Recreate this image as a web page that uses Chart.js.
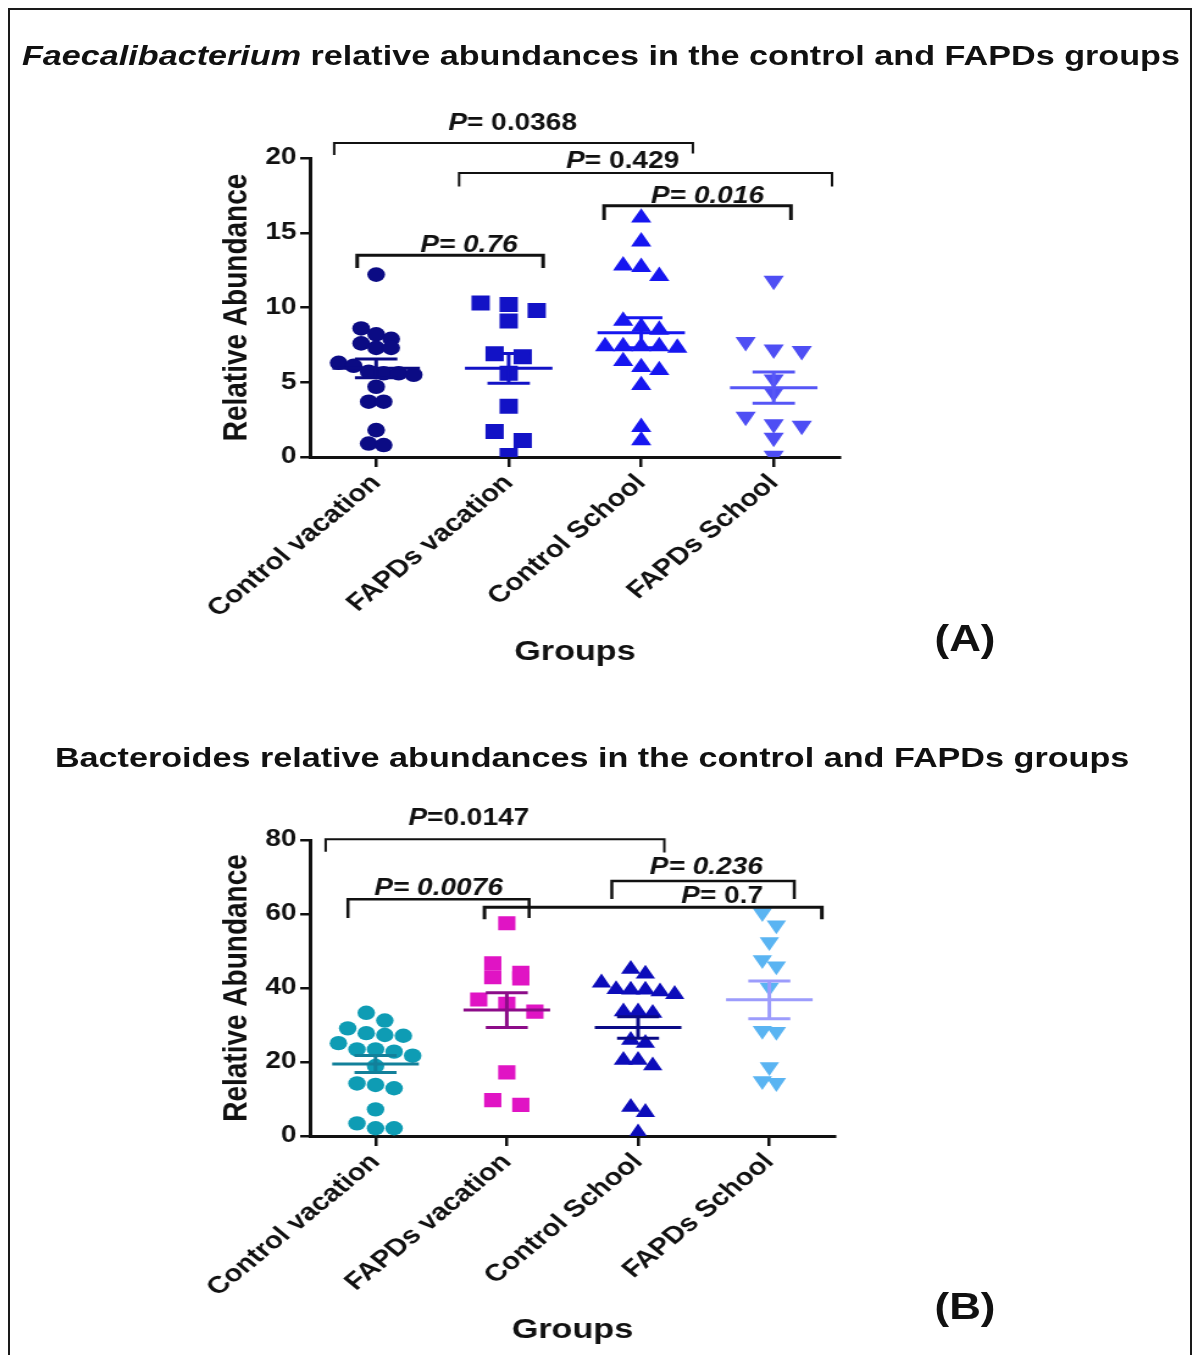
<!DOCTYPE html>
<html><head><meta charset="utf-8">
<script src="https://cdn.jsdelivr.net/npm/chart.js@4.4.1/dist/chart.umd.min.js"></script>
<style>
html,body{margin:0;padding:0;background:#fff;}
body{width:1196px;height:1355px;position:relative;overflow:hidden;font-family:"Liberation Sans",Arial,sans-serif;}
#frame{position:absolute;left:8px;top:8px;width:1184px;height:1400px;border:2px solid #1a1a1a;box-sizing:border-box;}
#stage{position:absolute;left:0;top:0;width:980px;height:1355px;transform:scaleX(1.22);transform-origin:0 0;}
.title{position:absolute;font-weight:bold;font-size:28px;color:#111;white-space:nowrap;line-height:1;}
.panel{position:absolute;font-weight:bold;font-size:36px;color:#111;line-height:1;}
canvas{position:absolute;left:0;}
</style></head>
<body>
<div id="frame"></div>
<div id="stage">
 <div class="title" style="left:18px;top:42px;"><i>Faecalibacterium</i> relative abundances in the control and FAPDs groups</div>
 <canvas id="cA" width="980" height="620" style="top:90px;width:980px;height:620px"></canvas>
 <div class="panel" style="left:766px;top:621px;">(A)</div>
 <div class="title" style="left:45px;top:744px;">Bacteroides relative abundances in the control and FAPDs groups</div>
 <canvas id="cB" width="980" height="575" style="top:780px;width:980px;height:575px"></canvas>
 <div class="panel" style="left:766px;top:1289px;">(B)</div>
</div>
<script>
// ---------- data ----------
const categories = ['Control vacation', 'FAPDs vacation', 'Control School', 'FAPDs School'];
const yTicksA = [0, 5, 10, 15, 20];
const yTicksB = [0, 20, 40, 60, 80];

const faecaliControlVacation = [12.2, 8.6, 8.2, 7.9, 7.6, 7.3, 7.3, 6.3, 6.1, 5.7, 5.6, 5.6, 5.5, 4.7, 3.7, 3.7, 1.8, 0.9, 0.8];
const faecaliFapdsVacation   = [10.3, 10.2, 9.8, 9.1, 6.9, 6.7, 5.6, 3.4, 1.7, 1.1, 0.1];
const faecaliControlSchool   = [16.0, 14.4, 12.8, 12.7, 12.1, 9.1, 8.7, 8.5, 7.4, 7.4, 7.4, 7.4, 7.3, 6.4, 6.0, 5.8, 4.8, 2.0, 1.1];
const faecaliFapdsSchool     = [11.8, 7.7, 7.2, 7.1, 5.2, 4.3, 2.7, 2.2, 2.1, 1.3, 0.1];
const faecaliMeans = [5.93, 5.93, 8.31, 4.64];
const faecaliSem   = [0.63, 1.0, 1.0, 1.04];

const bactControlVacation = [33.3, 31.2, 29.1, 27.8, 27.3, 27.1, 25.1, 23.4, 23.4, 22.8, 21.7, 18.9, 14.2, 13.8, 12.9, 7.2, 3.4, 2.1, 2.1];
const bactFapdsVacation   = [57.5, 46.7, 44.1, 42.9, 42.6, 36.9, 35.7, 33.6, 17.2, 9.7, 8.4];
const bactControlSchool   = [45.1, 43.8, 41.4, 39.6, 39.5, 39.5, 39.0, 38.3, 33.6, 33.6, 33.2, 25.9, 25.1, 20.5, 20.5, 19.0, 7.8, 6.4, 0.9];
const bactFapdsSchool     = [60.3, 57.0, 52.5, 47.6, 45.9, 40.2, 28.5, 28.2, 18.7, 14.9, 14.4];
const bactMeans = [19.46, 34.05, 29.3, 36.8];
const bactSem   = [2.3, 4.7, 2.9, 5.1];

const pValuesA = ['0.0368', '0.429', '0.016', '0.76'];
const pValuesB = ['0.0147', '0.0076', '0.236', '0.7'];

// ---------- annotation placement (category units / value units) ----------
const bracketsA = [
  {from:-0.317, to:2.39, y:21.0, legL:20.2, legR:20.3, tx:1.03, ty:21.87, p:pValuesA[0], sep:'= ', italic:false, lw:2},
  {from:0.626, to:3.44, y:19.0, legL:18.1, legR:18.1, tx:1.86, ty:19.33, p:pValuesA[1], sep:'= ', italic:false, lw:2},
  {from:1.72, to:3.13, y:16.8, legL:15.85, legR:15.85, tx:2.5, ty:16.99, p:pValuesA[2], sep:'= ', italic:true, lw:3},
  {from:-0.143, to:1.26, y:13.5, legL:12.64, legR:12.64, tx:0.70, ty:13.71, p:pValuesA[3], sep:'= ', italic:true, lw:3}
];
const bracketsB = [
  {from:-0.38, to:2.20, y:80.2, legL:76.8, legR:76.6, tx:0.71, ty:84.05, p:pValuesB[0], sep:'=', italic:false, lw:2},
  {from:-0.21, to:1.17, y:64.0, legL:58.9, legR:58.9, tx:0.48, ty:65.1, p:pValuesB[1], sep:'= ', italic:true, lw:2.5},
  {from:1.80, to:3.19, y:68.9, legL:64.05, legR:64.05, tx:2.52, ty:70.8, p:pValuesB[2], sep:'= ', italic:true, lw:2.5},
  {from:0.83, to:3.40, y:61.8, legL:58.6, legR:58.6, tx:2.64, ty:63.0, p:pValuesB[3], sep:'= ', italic:false, lw:3}
];

// ---------- styles ----------
const FAMILY = "'Liberation Sans', Arial, sans-serif";
Chart.defaults.font.family = FAMILY;
const stylesA = [
  {shape:'circle', rot:0, r:7.3, color:'#0b0b84', line:'#0b0b84', spread:12.3},
  {shape:'rect', rot:0, r:10.6, color:'#1212c6', line:'#1212c6', spread:23},
  {shape:'triangle', rot:0, r:9.6, color:'#1616f0', line:'#1616f0', spread:14.8},
  {shape:'triangle', rot:180, r:9.6, color:'#4e4ef4', line:'#5656f6', spread:23}
];
const stylesB = [
  {shape:'circle', rot:0, r:7.2, color:'#0e9cb4', line:'#12809a', spread:15.2},
  {shape:'rect', rot:0, r:10, color:'#e014c4', line:'#8c0c88', spread:23},
  {shape:'triangle', rot:0, r:9.2, color:'#0c0cba', line:'#0a0a86', spread:12},
  {shape:'triangle', rot:180, r:9.2, color:'#5ab4f2', line:'#9c9cfc', spread:11.5}
];

function meanSemPlugin(means, sems, styles) {
  return {
    id: 'meanSem',
    afterDatasetsDraw(chart) {
      const {ctx} = chart; const x = chart.scales.x, y = chart.scales.y;
      ctx.save();
      means.forEach((m, i) => {
        ctx.strokeStyle = styles[i].line; ctx.lineWidth = 3; ctx.lineCap = 'butt';
        const ym = y.getPixelForValue(m), yu = y.getPixelForValue(m + sems[i]), yl = y.getPixelForValue(m - sems[i]);
        ctx.beginPath();
        ctx.moveTo(x.getPixelForValue(i - 0.33), ym); ctx.lineTo(x.getPixelForValue(i + 0.33), ym);
        ctx.moveTo(x.getPixelForValue(i - 0.16), yu); ctx.lineTo(x.getPixelForValue(i + 0.16), yu);
        ctx.moveTo(x.getPixelForValue(i - 0.16), yl); ctx.lineTo(x.getPixelForValue(i + 0.16), yl);
        ctx.moveTo(x.getPixelForValue(i), yu); ctx.lineTo(x.getPixelForValue(i), yl);
        ctx.stroke();
      });
      ctx.restore();
    }
  };
}

function bracketPlugin(items) {
  return {
    id: 'brackets',
    afterDraw(chart) {
      const {ctx} = chart; const x = chart.scales.x, y = chart.scales.y;
      ctx.save();
      items.forEach(b => {
        const x1 = x.getPixelForValue(b.from), x2 = x.getPixelForValue(b.to), yy = y.getPixelForValue(b.y);
        ctx.strokeStyle = '#111'; ctx.lineWidth = b.lw; ctx.lineJoin = 'miter';
        ctx.beginPath();
        ctx.moveTo(x1, y.getPixelForValue(b.legL)); ctx.lineTo(x1, yy); ctx.lineTo(x2, yy); ctx.lineTo(x2, y.getPixelForValue(b.legR));
        ctx.stroke();
        const fP = `italic bold 23px ${FAMILY}`;
        const fR = `${b.italic ? 'italic ' : ''}bold 23px ${FAMILY}`;
        const rest = b.sep + b.p;
        ctx.font = fP; const wP = ctx.measureText('P').width;
        ctx.font = fR; const wR = ctx.measureText(rest).width;
        const tx = x.getPixelForValue(b.tx) - (wP + wR) / 2, ty = y.getPixelForValue(b.ty);
        ctx.fillStyle = '#111'; ctx.textBaseline = 'alphabetic'; ctx.textAlign = 'left';
        ctx.font = fP; ctx.fillText('P', tx, ty);
        ctx.font = fR; ctx.fillText(rest, tx + wP, ty);
      });
      ctx.restore();
    }
  };
}

function swarm(chart, groups, styles, binPx) {
  const xs = chart.scales.x, ys = chart.scales.y;
  const step = xs.getPixelForValue(1) - xs.getPixelForValue(0);
  groups.forEach((vals, gi) => {
    const order = vals.map((v, i) => i).sort((a, b) => vals[b] - vals[a]);
    const rows = []; let cur = null;
    order.forEach(i => {
      const py = ys.getPixelForValue(vals[i]);
      if (!cur || py - cur.top > binPx) { cur = {top: py, members: []}; rows.push(cur); }
      cur.members.push(i);
    });
    const off = new Array(vals.length).fill(0);
    rows.forEach(r => {
      const n = r.members.length;
      r.members.forEach((i, k) => { off[i] = (k - (n - 1) / 2) * styles[gi].spread / step; });
    });
    chart.data.datasets[gi].data = vals.map((v, i) => ({x: gi + off[i], y: v}));
  });
  chart.update('none');
}

function makeChart(id, groups, styles, yMax, yTicks, geom, means, sems, brackets) {
  const chart = new Chart(document.getElementById(id), {
    type: 'scatter',
    data: {
      datasets: groups.map((vals, gi) => ({
        label: categories[gi],
        data: vals.map(v => ({x: gi, y: v})),
        pointStyle: styles[gi].shape,
        pointRotation: styles[gi].rot,
        pointRadius: styles[gi].r,
        pointHoverRadius: styles[gi].r,
        pointBackgroundColor: styles[gi].color,
        pointBorderColor: styles[gi].color,
        pointBorderWidth: 0,
        showLine: false
      }))
    },
    options: {
      responsive: false, animation: false, events: [],
      layout: {padding: {left: 150, right: geom.padRight, top: geom.padTop, bottom: 0}},
      plugins: {legend: {display: false}, tooltip: {enabled: false}},
      scales: {
        x: {
          type: 'linear', min: -0.5, max: 3.5,
          afterBuildTicks: s => { s.ticks = categories.map((c, i) => ({value: i})); },
          afterFit: s => { s.height = geom.xHeight; },
          ticks: {callback: v => categories[v], minRotation: 45, maxRotation: 45, autoSkip: false,
                  color: '#111', font: {size: 24, weight: 'bold'}, padding: 2},
          grid: {display: true, drawOnChartArea: false, drawTicks: true, tickLength: 10, color: '#111', lineWidth: 2.5},
          border: {display: true, color: '#111', width: 3},
          title: {display: true, text: 'Groups', color: '#111', font: {size: 28, weight: 'bold'}, padding: {top: 0, bottom: geom.xTitlePad}}
        },
        y: {
          min: 0, max: yMax,
          afterBuildTicks: s => { s.ticks = yTicks.map(v => ({value: v})); },
          afterFit: s => { s.width = 104; },
          ticks: {color: '#111', font: {size: 23, weight: 'bold'}, padding: 3},
          grid: {display: true, drawOnChartArea: false, drawTicks: true, tickLength: 8, color: '#111', lineWidth: 2.5},
          border: {display: true, color: '#111', width: 3},
          title: {display: true, text: 'Relative Abundance', color: '#111', font: {size: 28, weight: 'bold'}, padding: {top: 27, bottom: 0}}
        }
      }
    },
    plugins: [meanSemPlugin(means, sems, styles), bracketPlugin(brackets)]
  });
  swarm(chart, groups, styles, 13);
  return chart;
}

makeChart('cA', [faecaliControlVacation, faecaliFapdsVacation, faecaliControlSchool, faecaliFapdsSchool],
  stylesA, 20, yTicksA, {padRight: 291.5, padTop: 68, xHeight: 253, xTitlePad: 41},
  faecaliMeans, faecaliSem, bracketsA);
makeChart('cB', [bactControlVacation, bactFapdsVacation, bactControlSchool, bactFapdsSchool],
  stylesB, 80, yTicksB, {padRight: 295.6, padTop: 60, xHeight: 219, xTitlePad: 8},
  bactMeans, bactSem, bracketsB);
</script>
</body></html>
